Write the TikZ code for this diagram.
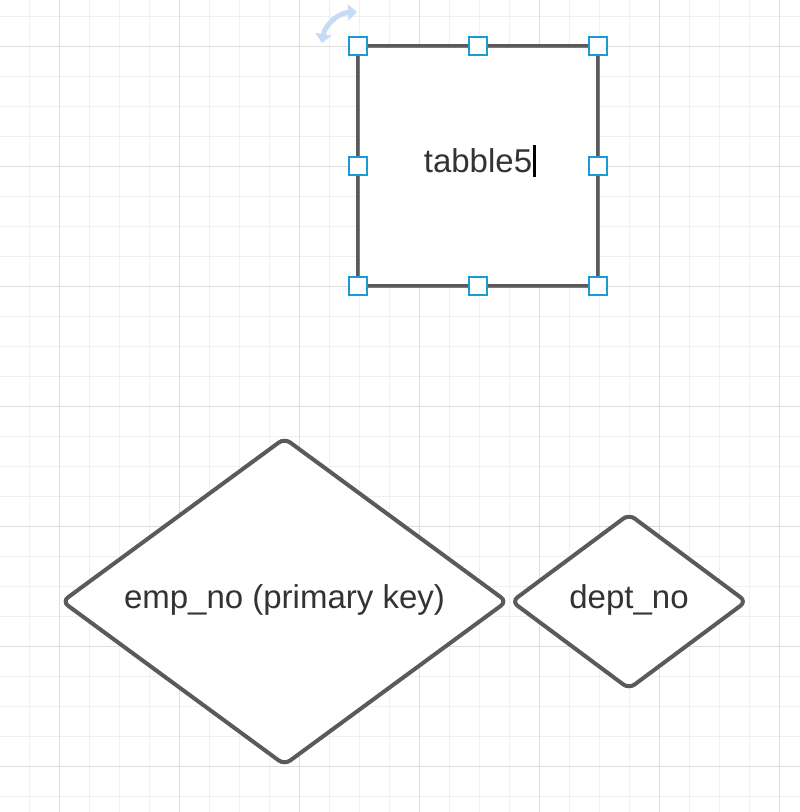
\documentclass[tikz,border=0pt]{standalone}
\usepackage{fontspec}
\setmainfont{Liberation Sans}
\usepackage{tikz}
\usetikzlibrary{shapes.geometric}
\usetikzlibrary{arrows.meta}

\definecolor{linegray}{HTML}{5A5A5A}
\definecolor{textgray}{HTML}{333333}
\definecolor{selblue}{HTML}{1A9BD7}
\definecolor{rotblue}{HTML}{C6DCF5}
\definecolor{gridminor}{HTML}{F0F0F0}
\definecolor{gridmajor}{HTML}{DDDDDD}

\begin{document}
\begin{tikzpicture}[x=1pt, y=-1pt,
    every node/.style={font=\fontsize{33}{40}\selectfont, text=textgray},
    entity/.style={rectangle, draw=linegray, line width=3.5pt, fill=white,
        minimum width=240pt, minimum height=240pt, outer sep=0pt},
    attr/.style={diamond, draw=linegray, line width=4pt, fill=white,
        rounded corners=7pt, inner sep=0pt, text depth=9pt},
    handle/.style={rectangle, draw=selblue, line width=2pt, fill=white,
        minimum size=18pt, inner sep=0pt}]

    \useasboundingbox (0,0) rectangle (800,812);
    \fill[white] (0,0) rectangle (800,812);
    \foreach \x in {29.5,59.5,...,780} \draw[gridminor, line width=1pt] (\x,0) -- (\x,812);
    \foreach \y in {16,46,...,800} \draw[gridminor, line width=1pt] (0,\y) -- (800,\y);
    \foreach \x in {59.5,179.5,...,780} \draw[gridmajor, line width=1pt] (\x,0) -- (\x,812);
    \foreach \y in {46,166,...,800} \draw[gridmajor, line width=1pt] (0,\y) -- (800,\y);

    \node[entity, text depth=10pt]                                          (tbl)    at (478, 166)     {tabble5};
    \node[attr, aspect=1.36, minimum width=446pt, minimum height=328pt]      (empno)  at (284.5, 601.5) {emp\_no (primary key)};
    \node[attr, aspect=1.34, minimum width=236pt, minimum height=176pt]      (deptno) at (629, 601.5)   {dept\_no};

    \draw[black, line width=3pt] (534.5,145) -- (534.5,177);
    \draw[selblue, line width=1.5pt] ([xshift=1.5pt,yshift=-1.5pt]tbl.north west) rectangle ([xshift=1.5pt,yshift=-1.5pt]tbl.south east);

    \foreach \a/\n in {north west/hnw, north/hn, north east/hne, west/hw, east/he, south west/hsw, south/hs, south east/hse}
        \node[handle] (\n) at (tbl.\a) {};

    \draw[rotblue, line width=5pt, {Triangle[width=16pt,length=9pt]}-{Triangle[width=16pt,length=9pt]}]
        (322,43) .. controls (325,25) and (338,13) .. (357,12);
  \end{tikzpicture}
\end{document}
